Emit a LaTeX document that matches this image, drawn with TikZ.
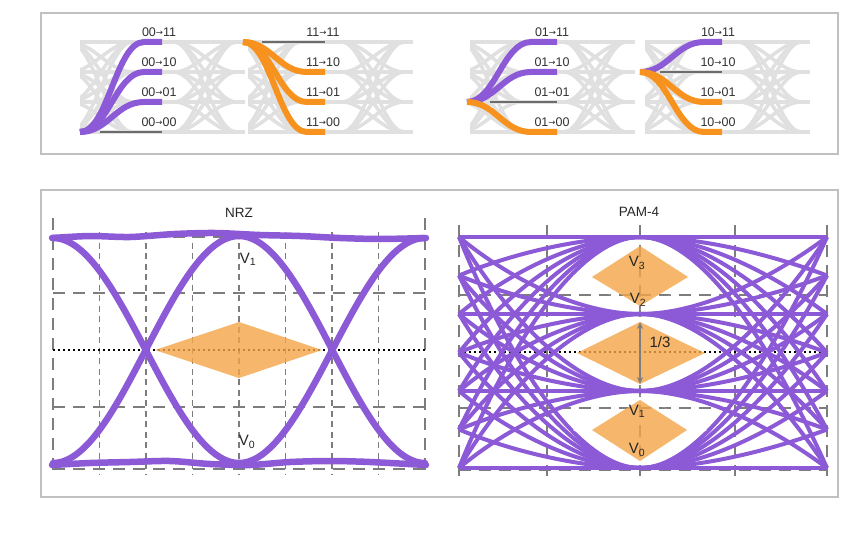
\documentclass[tikz,border=0pt]{standalone}
\usepackage{fontspec}
\setmainfont{Liberation Sans}
\newfontfamily\arrowfont{DejaVu Sans}
\usepackage{tikz}
\usetikzlibrary{arrows.meta}

\definecolor{eyepurple}{RGB}{140,90,214}
\definecolor{eyeorange}{RGB}{247,146,30}
\definecolor{maskorange}{RGB}{244,164,70}
\definecolor{bggray}{RGB}{224,224,224}
\definecolor{gridgray}{RGB}{125,125,125}
\definecolor{boxgray}{RGB}{192,192,192}
\definecolor{txtgray}{RGB}{50,50,50}

\newcommand{\sarrow}{{\arrowfont\fontsize{8.5}{8.5}\selectfont\raisebox{0.2ex}{→}}}

% light gray eye behind one group of transitions
\newcommand{\grayeye}[1]{%
  \begin{scope}
    \clip (#1,30) rectangle (#1+165,145);
    \foreach \ya in {42,72,102,132} {
      \draw[eyebg] (#1,\ya) -- (#1+165,\ya);
      \foreach \yb in {42,72,102,132}
        \draw[eyebg] (#1-10,\ya) .. controls (#1+12,\ya) and (#1+30,\yb) .. (#1+52,\yb)
                     (#1+94,\ya) .. controls (#1+116,\ya) and (#1+134,\yb) .. (#1+156,\yb);
    }
  \end{scope}}

% one coloured transition: style, start x, from level, to level, end x
\newcommand{\trace}[5]{%
  \draw[#1] (#2,#3) .. controls (#2+28,#3) and (#2+36,#4) .. (#2+64,#4) -- (#5,#4);}

\begin{document}
\begin{tikzpicture}[x=1pt, y=-1pt,
    box/.style={draw=boxgray, line width=2pt},
    eyebg/.style={draw=bggray, line width=3.5pt},
    purp/.style={draw=eyepurple, line width=6pt},
    oran/.style={draw=eyeorange, line width=6pt},
    lvl/.style={draw=gray!85!black, line width=1.5pt},
    lbl/.style={font=\fontsize{12.5}{13}\selectfont, text=txtgray, inner sep=0pt},
    title/.style={font=\fontsize{13.5}{14}\selectfont, text=black!85, inner sep=0pt},
    vlbl/.style={font=\fontsize{15}{16}\selectfont, text=black!85, inner sep=0pt},
    thingrid/.style={draw=gridgray, line width=1.2pt, dash pattern=on 6pt off 4.5pt},
    thickgrid/.style={draw=gridgray, line width=2.5pt, dash pattern=on 12pt off 8pt},
    dotline/.style={draw=black, line width=2pt, dash pattern=on 2pt off 3pt},
    nrzline/.style={draw=eyepurple, line width=6.5pt, line cap=round},
    pamline/.style={draw=eyepurple, line width=4pt},
    diamond/.style={fill=maskorange, fill opacity=0.8}]

  \fill[white] (0,0) rectangle (850,540);
  \useasboundingbox (0,0) rectangle (850,540);

  % ---------- top panel ----------
  \draw[box] (41,13) rectangle (838,154);
  \grayeye{80}
  \grayeye{248}
  \grayeye{470}
  \grayeye{645}

  % staying on the same level
  \draw[lvl] (100,132) -- (162,132);
  \draw[lvl] (262,42) -- (325,42);
  \draw[lvl] (490,102) -- (557,102);
  \draw[lvl] (660,72) -- (722,72);

  % transitions out of 00, 11, 01, 10
  \foreach \yb in {42,72,102} {\trace{purp}{80}{132}{\yb}{162}}
  \foreach \yb in {72,102,132} {\trace{oran}{243}{42}{\yb}{325}}
  \foreach \yb in {42,72} {\trace{purp}{467}{102}{\yb}{557}}
  \trace{oran}{467}{102}{132}{557}
  \trace{purp}{640}{72}{42}{722}
  \foreach \yb in {102,132} {\trace{oran}{640}{72}{\yb}{722}}

  \foreach \lv/\txt [count=\i] in {42/11,72/10,102/01,132/00} {
    \node[lbl] (ga\i) at (159,\lv-10) {00\sarrow\txt};
    \node[lbl] (gb\i) at (323,\lv-10) {11\sarrow\txt};
    \node[lbl] (gc\i) at (552,\lv-10) {01\sarrow\txt};
    \node[lbl] (gd\i) at (718,\lv-10) {10\sarrow\txt};
  }

  % ---------- bottom panel ----------
  \draw[box] (41,190) rectangle (838,497);

  % NRZ grid
  \foreach \x in {99.5,146,192.5,239,285.5,332,378.5}
    \draw[thingrid] (\x,232) -- (\x,475);
  \foreach \x in {53,425}
    \draw[thickgrid] (\x,218) -- (\x,476);
  \foreach \y in {237,293,407,469}
    \draw[thickgrid] (53,\y) -- (425,\y);
  \draw[dotline] (53,350) -- (425,350);
  \fill[diamond] (155,350) -- (239,322) -- (322,350) -- (239,378) -- cycle;

  % NRZ eye
  \draw[nrzline] plot[smooth] coordinates {(52,238) (90,236) (130,237) (175,234) (215,233)
    (260,235) (300,236) (340,238) (380,239) (426,238)};
  \draw[nrzline] plot[smooth] coordinates {(52,465) (90,463) (130,462) (170,461) (210,464)
    (250,465) (290,462) (330,461) (370,462) (426,465)};
  \draw[nrzline] (53,238) .. controls (121,238) and (171,463) .. (239,463);
  \draw[nrzline] (53,463) .. controls (121,463) and (171,236) .. (239,236);
  \draw[nrzline] (239,236) .. controls (307,236) and (357,463) .. (425,463);
  \draw[nrzline] (239,463) .. controls (307,463) and (357,238) .. (425,238);

  \node[title] (nrz) at (239,213) {NRZ};
  \node[vlbl] (nv1) at (248,259) {V\textsubscript{1}};
  \node[vlbl] (nv0) at (247,442) {V\textsubscript{0}};

  % PAM-4 grid
  \foreach \x in {459,547,640,735,827}
    \draw[thickgrid] (\x,225) -- (\x,476);
  \foreach \y in {237,295,408,470}
    \draw[thickgrid] (459,\y) -- (827,\y);
  \draw[dotline] (459,352) -- (827,352);

  % PAM-4 traces, edge points to the four levels
  \foreach \ye in {237,275.5,314,352.5,391,429.5,468}
    \foreach \yc in {237,314,391,468} {
      \draw[pamline] (459,\ye) .. controls (510,{\ye+0.55*(\yc-\ye)}) and (580,\yc) .. (640,\yc);
      \draw[pamline] (827,\ye) .. controls (770,{\ye+0.55*(\yc-\ye)}) and (700,\yc) .. (640,\yc);
    }

  % eye openings
  \def\pameyes{(573,276) -- (640,241) -- (707,276) -- (640,310) -- cycle
    (560,353) -- (640,318) -- (720,353) -- (640,387) -- cycle
    (573,430) -- (640,395) -- (707,430) -- (640,464) -- cycle}
  \fill[white] \pameyes;
  \begin{scope}
    \clip \pameyes;
    \draw[thickgrid] (459,295) -- (827,295);
    \draw[thickgrid] (459,408) -- (827,408);
    \draw[thickgrid] (640,225) -- (640,476);
    \draw[dotline] (459,352) -- (827,352);
  \end{scope}
  \fill[diamond] (592,277) -- (640,246) -- (688,277) -- (640,306) -- cycle;
  \fill[diamond] (577,353) -- (640,322) -- (705,353) -- (640,384) -- cycle;
  \fill[diamond] (592,430) -- (640,400) -- (687,430) -- (640,461) -- cycle;

  \coordinate (stop) at (640,322);
  \coordinate (sbot) at (640,384);
  \draw[{Stealth[length=7pt,width=6pt]}-{Stealth[length=7pt,width=6pt]}, draw=gridgray, fill=gridgray, line width=1.5pt] (stop) -- (sbot);

  \node[title] (pam) at (639,212) {PAM-4};
  \node[vlbl] (pv3) at (637,263) {V\textsubscript{3}};
  \node[vlbl] (pv2) at (638,300) {V\textsubscript{2}};
  \node[vlbl] (third) at (660,342) {1/3};
  \node[vlbl] (pv1) at (637,411) {V\textsubscript{1}};
  \node[vlbl] (pv0) at (637,450) {V\textsubscript{0}};
\end{tikzpicture}
\end{document}
